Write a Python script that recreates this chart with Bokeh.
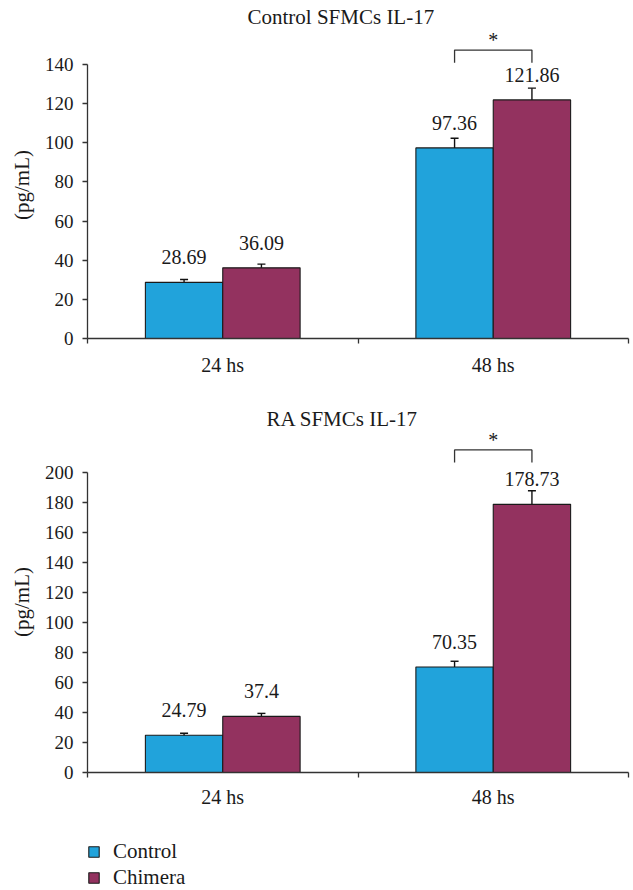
from bokeh.plotting import figure
from bokeh.models import (Range1d, FixedTicker, Whisker, TeeHead, ColumnDataSource,
                          Title, Legend, LegendItem)
from bokeh.layouts import column
from bokeh.core.properties import value
from bokeh.embed import file_html
from bokeh.resources import INLINE

# ---------------- data ----------------
categories = ["24 hs", "48 hs"]
series_names = ["Control", "Chimera"]

ctrl_title = "Control SFMCs IL-17"
ctrl_control = [28.69, 97.36]
ctrl_chimera = [36.09, 121.86]
ctrl_control_err = [1.45, 4.9]
ctrl_chimera_err = [1.9, 6.0]
ctrl_yticks = [0, 20, 40, 60, 80, 100, 120, 140]
ctrl_sig = [147.3, 140.9]      # bracket top, bracket legs (48 hs)

ra_title = "RA SFMCs IL-17"
ra_control = [24.79, 70.35]
ra_chimera = [37.4, 178.73]
ra_control_err = [1.4, 3.8]
ra_chimera_err = [2.0, 9.1]
ra_yticks = [0, 20, 40, 60, 80, 100, 120, 140, 160, 180, 200]
ra_sig = [215.0, 206.7]

y_label = "(pg/mL)"

# ---------------- style ----------------
BLUE = "#21A3DB"
PURPLE = "#93325F"
FONT = "Liberation Serif"
BAR_W = 0.286
W = 633


def make_chart(title, control, chimera, cerr, herr, yticks, ymax, sig,
               height, top, bottom, title_offset, title_standoff, xstandoff):
    n = len(categories)
    p = figure(width=W, height=height, output_backend="svg", toolbar_location=None,
               x_range=Range1d(0, n), y_range=Range1d(0, ymax),
               min_border_left=87, min_border_right=5,
               min_border_top=top, min_border_bottom=bottom)
    p.title = Title(text=title, align="left", offset=title_offset, standoff=title_standoff,
                    text_font=FONT, text_font_size="21px", text_font_style="normal",
                    text_color="#1a1a1a")
    p.outline_line_color = None
    p.xgrid.visible = False
    p.ygrid.visible = False

    xc = [i + 0.5 - BAR_W / 2 for i in range(n)]
    xh = [i + 0.5 + BAR_W / 2 for i in range(n)]

    p.vbar(x=xc, top=control, width=BAR_W, bottom=0, fill_color=BLUE,
           line_color="#1a1a1a", line_width=1.1)
    p.vbar(x=xh, top=chimera, width=BAR_W, bottom=0, fill_color=PURPLE,
           line_color="#1a1a1a", line_width=1.1)

    for xs, vals, errs in ((xc, control, cerr), (xh, chimera, herr)):
        src = ColumnDataSource(data=dict(
            x=xs,
            upper=[v + e for v, e in zip(vals, errs)],
            lower=[v - e for v, e in zip(vals, errs)]))
        wk = Whisker(source=src, base="x", upper="upper", lower="lower",
                     dimension="height", line_color="#111111", line_width=1.4,
                     upper_head=TeeHead(size=8, line_color="#111111", line_width=1.4),
                     lower_head=TeeHead(size=8, line_color="#111111", line_width=1.4))
        p.add_layout(wk)
        p.text(x=xs, y=vals, text=[str(v) for v in vals], text_align="center",
               text_baseline="alphabetic", y_offset=-25,
               text_font=value(FONT), text_font_size=value("20px"), text_color="#1a1a1a")

    # significance bracket on 48 hs
    x0, x1 = xc[1], xh[1]
    p.line(x=[x0, x0, x1, x1], y=[sig[1], sig[0], sig[0], sig[1]],
           line_color="#333333", line_width=1.3)
    p.text(x=[(x0 + x1) / 2], y=[sig[0]], text=["*"], text_align="center",
           text_baseline="alphabetic", y_offset=-10,
           text_font=value(FONT), text_font_size=value("20px"), text_color="#1a1a1a")

    # y axis
    ya = p.yaxis[0]
    ya.ticker = FixedTicker(ticks=yticks, minor_ticks=[])
    ya.bounds = (0, yticks[-1])
    ya.major_tick_out = 5
    ya.major_tick_in = 0
    ya.minor_tick_out = 0
    ya.minor_tick_in = 0
    ya.major_label_standoff = 9
    ya.axis_line_color = "#333333"
    ya.axis_line_width = 1.3
    ya.major_tick_line_color = "#333333"
    ya.major_tick_line_width = 1.3
    ya.major_label_text_font = FONT
    ya.major_label_text_font_size = "19px"
    ya.major_label_text_color = "#1a1a1a"
    ya.axis_label = y_label
    ya.axis_label_standoff = 8
    ya.axis_label_text_font = FONT
    ya.axis_label_text_font_size = "21px"
    ya.axis_label_text_font_style = "normal"
    ya.axis_label_text_color = "#1a1a1a"

    # x axis
    xa = p.xaxis[0]
    centers = [i + 0.5 for i in range(n)]
    xa.ticker = FixedTicker(ticks=centers, minor_ticks=list(range(n + 1)))
    xa.major_label_overrides = {c: lab for c, lab in zip(centers, categories)}
    xa.major_tick_out = 0
    xa.major_tick_in = 0
    xa.minor_tick_out = 5
    xa.minor_tick_in = 0
    xa.minor_tick_line_color = "#333333"
    xa.minor_tick_line_width = 1.3
    xa.axis_line_color = "#333333"
    xa.axis_line_width = 1.3
    xa.major_label_standoff = xstandoff
    xa.major_label_text_font = FONT
    xa.major_label_text_font_size = "20px"
    xa.major_label_text_color = "#1a1a1a"
    return p


p1 = make_chart(ctrl_title, ctrl_control, ctrl_chimera, ctrl_control_err,
                ctrl_chimera_err, ctrl_yticks, 156.8, ctrl_sig,
                388, 30, 50, 160, 5, 10)
p2 = make_chart(ra_title, ra_control, ra_chimera, ra_control_err,
                ra_chimera_err, ra_yticks, 227.3, ra_sig,
                430, 43, 46, 179, 2, 8)

# legend panel (zero-size swatch renderers only carry the legend styling)
p3 = figure(width=W, height=72, output_backend="svg", toolbar_location=None,
            x_range=Range1d(0, 1), y_range=Range1d(0, 1),
            x_axis_location=None, y_axis_location=None,
            min_border_left=0, min_border_right=0, min_border_top=0, min_border_bottom=0)
p3.outline_line_color = None
p3.xgrid.visible = False
p3.ygrid.visible = False
sw1 = p3.vbar(x=[0.5], top=[0], bottom=[0], width=0, fill_color=BLUE,
              line_color="#1a1a1a", line_width=1.1)
sw2 = p3.vbar(x=[0.5], top=[0], bottom=[0], width=0, fill_color=PURPLE,
              line_color="#1a1a1a", line_width=1.1)
legend = Legend(items=[LegendItem(label=series_names[0], renderers=[sw1]),
                       LegendItem(label=series_names[1], renderers=[sw2])],
                location=(0, 0), orientation="vertical",
                glyph_width=13, glyph_height=13, label_standoff=13,
                label_height=26, spacing=0, padding=0, margin=0,
                border_line_color=None, background_fill_alpha=0,
                label_text_font=FONT, label_text_font_size="21px",
                label_text_color="#1a1a1a")
p3.add_layout(legend)

layout = column(p1, p2, p3, spacing=0)
open("out.html", "w").write(file_html(layout, INLINE))
